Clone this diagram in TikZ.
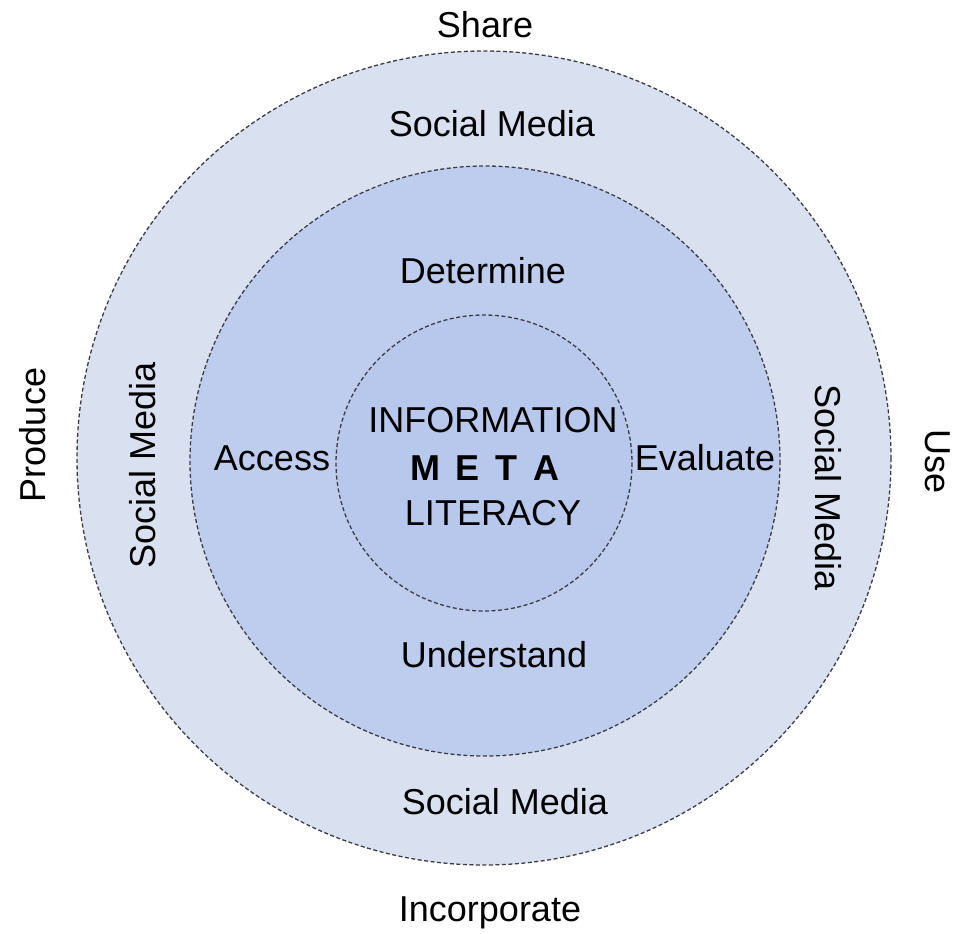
\documentclass[tikz,border=0pt]{standalone}
\usepackage{fontspec}
\setmainfont{Liberation Sans}
\definecolor{outerfill}{RGB}{217,224,240}
\definecolor{midfill}{RGB}{190,205,238}
\definecolor{innerfill}{RGB}{183,200,236}
\definecolor{ringline}{RGB}{60,60,70}
\begin{document}
\begin{tikzpicture}[x=1pt,y=-1pt,
  ring/.style={draw=ringline,line width=1.3pt,dash pattern=on 4pt off 2.5pt},
  lbl/.style={font=\fontsize{36}{43}\selectfont,inner sep=0pt,anchor=center}]
\useasboundingbox (0,0) rectangle (959,934);
\fill[white] (0,0) rectangle (959,934);
\draw[ring,fill=outerfill] (484,458) circle (407);
\draw[ring,fill=midfill] (485,461) circle (295);
\draw[ring,fill=innerfill] (484,463) circle (148);
\node[lbl] (share) at (485,25) {Share};
\node[lbl] (smtop) at (492,124) {Social Media};
\node[lbl] (det) at (483,271) {Determine};
\node[lbl] (acc) at (272,458) {Access};
\node[lbl] (eva) at (705,458) {Evaluate};
\node[lbl] (und) at (494,655) {Understand};
\node[lbl] (smbot) at (505,802) {Social Media};
\node[lbl] (inc) at (490,913) {Incorporate};
\node[lbl,rotate=90] (prod) at (33,435) {Produce};
\node[lbl,rotate=90] (smleft) at (143,465) {Social Media};
\node[lbl,rotate=-90] (smright) at (828,488) {Social Media};
\node[lbl,rotate=-90] (use) at (938,462) {Use};
\node[lbl] (info) at (493,420) {INFORMATION};
\node[lbl,font=\fontsize{36}{43}\selectfont\bfseries] (meta) at (485,468) {M\hspace{16pt}E\hspace{16pt}T\hspace{16pt}A};
\node[lbl] (lit) at (493,513) {LITERACY};
\end{tikzpicture}
\end{document}
